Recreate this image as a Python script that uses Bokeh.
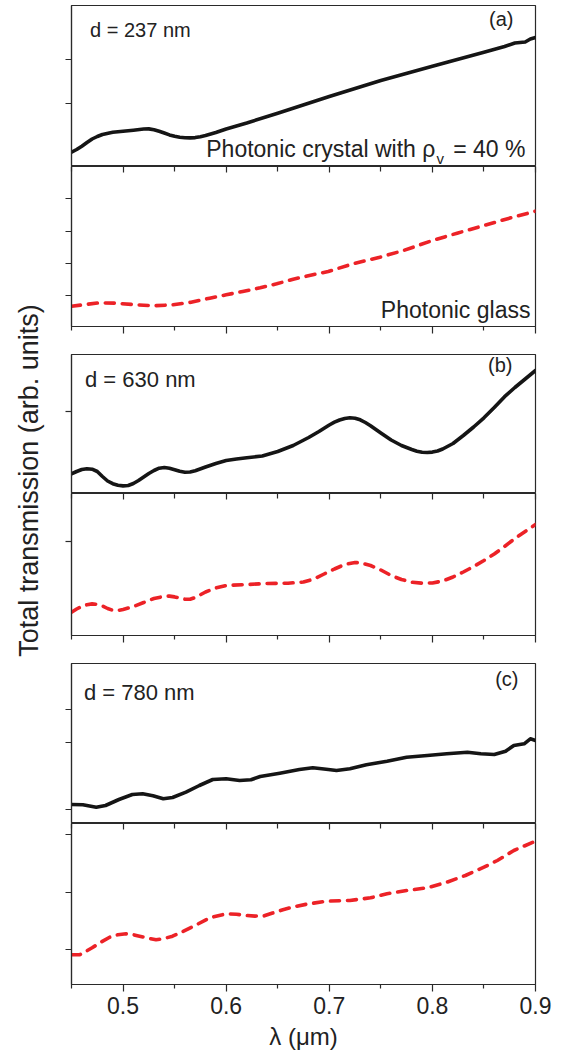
import numpy as np
from bokeh.plotting import figure
from bokeh.models import Range1d, FixedTicker, LinearAxis, Label
from bokeh.layouts import column, row
from bokeh.embed import file_html
from bokeh.resources import INLINE
from bokeh.core.properties import value

# ---------------- data (wavelength in um, transmission in arb. units) ----------------
# (a) d = 237 nm, photonic crystal
lam_a_pc = [0.45, 0.455, 0.46, 0.465, 0.47, 0.475, 0.48, 0.49, 0.50, 0.51, 0.52, 0.525, 0.53,
            0.535, 0.54, 0.545, 0.55, 0.555, 0.56, 0.565, 0.57, 0.575, 0.58, 0.59, 0.60, 0.62,
            0.65, 0.70, 0.75, 0.80, 0.85, 0.87, 0.88, 0.89, 0.895, 0.90]
t_a_pc = [14.3, 17.0, 20.3, 24.0, 27.5, 30.0, 32.0, 34.2, 35.2, 36.3, 37.5, 37.6, 36.8,
          35.3, 33.5, 31.6, 30.2, 29.2, 28.7, 28.6, 28.9, 29.8, 31.0, 34.0, 37.5, 43.5,
          53.3, 70.0, 86.0, 100.3, 114.3, 120.0, 123.5, 124.5, 127.5, 129.0]
# (a) photonic glass
lam_a_pg = [0.45, 0.477, 0.493, 0.513, 0.529, 0.548, 0.566, 0.584, 0.600, 0.616, 0.633, 0.649,
            0.665, 0.684, 0.699, 0.723, 0.749, 0.772, 0.800, 0.824, 0.850, 0.876, 0.90]
t_a_pg = [20.3, 23.7, 23.3, 21.7, 20.7, 21.7, 24.3, 28.3, 31.7, 35.0, 38.7, 42.7,
          47.3, 51.7, 55.0, 62.7, 69.3, 76.0, 86.0, 93.3, 101.0, 108.7, 115.3]
# (b) d = 630 nm, photonic crystal
lam_b_pc = [0.45, 0.455, 0.46, 0.465, 0.47, 0.475, 0.48, 0.485, 0.49, 0.495, 0.50, 0.505, 0.51,
            0.515, 0.52, 0.525, 0.53, 0.535, 0.54, 0.545, 0.55, 0.555, 0.56, 0.565, 0.57, 0.58,
            0.59, 0.60, 0.61, 0.62, 0.635, 0.65, 0.665, 0.68, 0.69, 0.70, 0.705, 0.71, 0.715,
            0.72, 0.725, 0.73, 0.735, 0.74, 0.75, 0.76, 0.77, 0.78, 0.785, 0.79, 0.795, 0.80,
            0.805, 0.81, 0.82, 0.83, 0.84, 0.85, 0.86, 0.87, 0.88, 0.89, 0.90]
t_b_pc = [19.7, 22.0, 24.0, 24.8, 24.3, 22.0, 17.0, 12.5, 9.8, 8.2, 7.6, 8.0, 10.0,
          13.0, 16.5, 20.0, 23.0, 25.3, 26.0, 25.2, 23.8, 22.2, 21.3, 21.5, 22.8, 26.5,
          30.0, 33.0, 34.5, 35.8, 37.5, 42.0, 48.0, 56.0, 62.0, 68.5, 71.3, 73.5, 75.0,
          75.7, 75.3, 73.7, 71.0, 67.8, 60.5, 53.5, 48.0, 44.0, 42.3, 41.2, 41.0, 41.4,
          42.5, 44.5, 50.0, 58.0, 66.5, 75.7, 86.0, 96.8, 106.0, 114.5, 123.0]
# (b) photonic glass
lam_b_pg = [0.45, 0.455, 0.46, 0.465, 0.47, 0.475, 0.48, 0.485, 0.49, 0.495, 0.50, 0.51, 0.52,
            0.53, 0.54, 0.545, 0.55, 0.555, 0.56, 0.565, 0.57, 0.58, 0.59, 0.60, 0.62, 0.64,
            0.66, 0.675, 0.685, 0.695, 0.705, 0.715, 0.725, 0.73, 0.74, 0.75, 0.76, 0.77,
            0.78, 0.79, 0.80, 0.81, 0.82, 0.83, 0.84, 0.85, 0.86, 0.87, 0.88, 0.89, 0.90]
t_b_pg = [23.3, 26.5, 29.0, 30.8, 31.6, 31.2, 29.5, 27.0, 25.2, 25.0, 26.0, 29.0, 33.0,
          37.0, 39.2, 39.4, 38.6, 37.5, 36.3, 36.2, 38.0, 43.5, 47.5, 50.0, 51.0, 52.0,
          52.3, 53.5, 56.5, 61.5, 66.5, 71.0, 73.0, 72.8, 70.0, 65.5, 60.0, 56.0,
          53.3, 52.3, 52.5, 54.5, 58.5, 63.5, 69.0, 75.0, 81.5, 89.0, 97.0, 104.0, 111.0]
# (c) d = 780 nm, photonic crystal
lam_c_pc = [0.45, 0.461, 0.474, 0.483, 0.496, 0.509, 0.519, 0.529, 0.539, 0.548, 0.561, 0.574,
            0.587, 0.600, 0.613, 0.624, 0.633, 0.652, 0.671, 0.684, 0.697, 0.707, 0.720, 0.736,
            0.756, 0.775, 0.795, 0.814, 0.834, 0.847, 0.860, 0.871, 0.879, 0.889, 0.895, 0.90]
t_c_pc = [19.0, 18.7, 16.3, 18.0, 24.0, 29.0, 29.7, 27.7, 24.7, 26.0, 31.3, 38.0,
          44.0, 44.7, 43.0, 43.7, 47.0, 50.3, 54.0, 55.7, 54.3, 53.0, 54.7, 58.7,
          62.3, 66.3, 68.0, 69.7, 71.3, 69.7, 69.0, 72.3, 78.0, 79.7, 84.7, 83.0]
# (c) photonic glass
lam_c_pg = [0.45, 0.458, 0.470, 0.478, 0.487, 0.495, 0.503, 0.51, 0.516, 0.525, 0.532, 0.54,
            0.548, 0.556, 0.568, 0.584, 0.600, 0.61, 0.620, 0.628, 0.637, 0.645, 0.655, 0.665,
            0.678, 0.697, 0.720, 0.740, 0.756, 0.775, 0.795, 0.814, 0.832, 0.850, 0.863,
            0.879, 0.90]
t_c_pg = [29.7, 29.7, 36.7, 42.0, 47.3, 49.8, 50.7, 49.8, 48.3, 46.2, 44.7, 46.0,
          48.3, 52.0, 58.0, 66.7, 70.7, 70.2, 69.0, 68.4, 68.7, 71.5, 74.7, 77.5,
          80.3, 83.3, 84.0, 86.7, 90.7, 94.0, 96.7, 102.3, 109.0, 117.3, 124.0,
          134.0, 143.3]

x_major = [0.5, 0.6, 0.7, 0.8, 0.9]
x_minor = [0.45, 0.55, 0.65, 0.75, 0.85]
x_labels = {0.5: "0.5", 0.6: "0.6", 0.7: "0.7", 0.8: "0.8", 0.9: "0.9"}

# ---------------- style ----------------
FONT = "Liberation Sans"
AX = "#2a2a2a"
TXT = "#222222"
BLACK = "#151515"
RED = "#EC2227"


def hide_labels(ax):
    ax.major_label_text_font_size = "0px"
    ax.major_label_text_color = None
    ax.major_label_standoff = 0


def panel(fh, yticks, top_b, bot_b, lower, last=False):
    p = figure(frame_width=464, frame_height=fh,
               x_range=Range1d(0.45, 0.9), y_range=Range1d(0, fh),
               output_backend="svg", toolbar_location=None,
               x_axis_location="below" if lower else None,
               min_border_left=21, min_border_right=32,
               min_border_top=top_b, min_border_bottom=bot_b)
    p.grid.visible = False
    p.outline_line_color = AX
    p.outline_line_width = 1.2
    ya = p.yaxis[0]
    ya.ticker = FixedTicker(ticks=yticks, minor_ticks=[])
    ya.major_tick_out = 6
    ya.major_tick_in = 0
    ya.major_tick_line_color = AX
    ya.major_tick_line_width = 1.2
    ya.axis_line_color = AX
    ya.axis_line_width = 1.2
    hide_labels(ya)
    if lower:
        # ticks hanging from the shared border with the panel above
        ta = LinearAxis(ticker=FixedTicker(ticks=x_major, minor_ticks=x_minor),
                        major_tick_in=6, major_tick_out=0,
                        minor_tick_in=5, minor_tick_out=0,
                        major_tick_line_color=AX, minor_tick_line_color=AX,
                        major_tick_line_width=1.2, minor_tick_line_width=1.2,
                        axis_line_color=AX, axis_line_width=1.2)
        hide_labels(ta)
        p.add_layout(ta, "above")
        xa = p.below[0]
        xa.ticker = FixedTicker(ticks=x_major, minor_ticks=x_minor)
        xa.major_tick_out = 7
        xa.major_tick_in = 0
        xa.minor_tick_out = 4
        xa.minor_tick_in = 0
        xa.major_tick_line_color = AX
        xa.minor_tick_line_color = AX
        xa.major_tick_line_width = 1.2
        xa.minor_tick_line_width = 1.2
        xa.axis_line_color = AX
        xa.axis_line_width = 1.2
        if last:
            xa.major_label_overrides = x_labels
            xa.major_label_text_font = FONT
            xa.major_label_text_font_size = "23px"
            xa.major_label_text_color = TXT
            xa.major_label_standoff = 5
            xa.axis_label = "λ (μm)"
            xa.axis_label_text_font = FONT
            xa.axis_label_text_font_size = "24px"
            xa.axis_label_text_font_style = "normal"
            xa.axis_label_text_color = TXT
            xa.axis_label_standoff = 6
        else:
            hide_labels(xa)
    return p


def crystal(p, x, y):
    p.line(x, y, line_color=BLACK, line_width=3.6, line_join="round", line_cap="round")


def glass(p, x, y):
    p.line(x, y, line_color=RED, line_width=3.6, line_dash="9 8",
           line_join="round", line_cap="round")


def lab(p, x, y, text, size, align="left"):
    p.add_layout(Label(x=x, y=y, text=text, text_font=FONT, text_font_size=size,
                       text_color=TXT, text_align=align, text_baseline="alphabetic"))


# (a)
p1 = panel(161, [63, 107], 5, 0, False)
crystal(p1, lam_a_pc, t_a_pc)
lab(p1, 0.468, 136.5, "d = 237 nm", "20px")
lab(p1, 0.8786, 147.5, "(a)", "20px", "right")
lab(p1, 0.8029, 17.8, "Photonic crystal with ρ", "23px", "right")
lab(p1, 0.8039, 8.0, "v", "15px")
lab(p1, 0.8903, 17.8, "= 40 %", "23px", "right")

p2 = panel(160, [31, 63.3, 95.3, 127.7], 0, 27, True)
glass(p2, lam_a_pg, t_a_pg)
lab(p2, 0.8951, 16.2, "Photonic glass", "23px", "right")

# (b)
p3 = panel(139, [82.3], 1, 0, False)
crystal(p3, lam_b_pc, t_b_pc)
lab(p3, 0.4631, 114.2, "d = 630 nm", "22px")
lab(p3, 0.8777, 128.5, "(b)", "20px", "right")

p4 = panel(142, [94], 0, 27, True)
glass(p4, lam_b_pg, t_b_pg)

# (c)
p5 = panel(160, [13.7, 81.3, 113.7], 1, 0, False)
crystal(p5, lam_c_pc, t_c_pc)
lab(p5, 0.4621, 131.5, "d = 780 nm", "22px")
lab(p5, 0.8835, 145.0, "(c)", "20px", "right")

p6 = panel(161, [34.7, 92.3, 150], 0, 73, True, last=True)
glass(p6, lam_c_pg, t_c_pg)

# y-axis title spanning all panels
ylab = figure(width=50, height=1057, x_range=Range1d(0, 50), y_range=Range1d(0, 1057),
              output_backend="svg", toolbar_location=None, min_border=0,
              x_axis_location=None, y_axis_location=None, outline_line_color=None)
ylab.grid.visible = False
ylab.text(x=[28], y=[577], text=["Total transmission (arb. units)"], angle=np.pi / 2,
          text_align="center", text_baseline="middle", text_font=value(FONT),
          text_font_size="27px", text_color=TXT)

layout = row(ylab, column(p1, p2, p3, p4, p5, p6))

with open("out.html", "w") as f:
    f.write(file_html(layout, INLINE))
